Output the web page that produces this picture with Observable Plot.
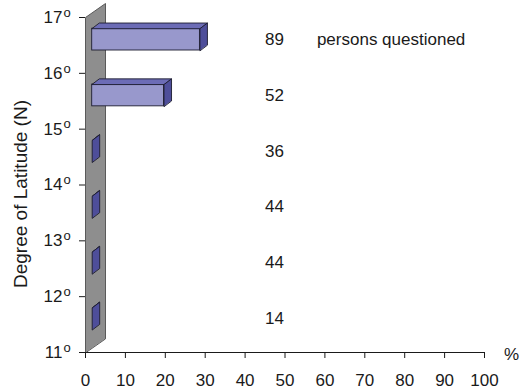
<!DOCTYPE html>
<html>
<head>
<meta charset="utf-8">
<script src="https://cdn.jsdelivr.net/npm/d3@7"></script>
<script src="https://cdn.jsdelivr.net/npm/@observablehq/plot@0.6"></script>
<style>
  html, body { margin: 0; padding: 0; background: #fff; }
  svg { display: block; }
</style>
</head>
<body>
<div id="chart"></div>
<script>
// ---- data ----
const latitudes = [16.5, 15.5, 14.5, 13.5, 12.5, 11.5];   // band centres (°N)
const percent   = [27, 18, 0, 0, 0, 0];                     // bar values (%)
const persons   = [89, 52, 36, 44, 44, 14];                 // persons questioned
const xTicks    = [0, 10, 20, 30, 40, 50, 60, 70, 80, 90, 100];
const yTicks    = [11, 12, 13, 14, 15, 16, 17];

// ---- layout ----
const W = 531, H = 391, ML = 85, MR = 47, MT = 17, MB = 39;
const kx = (W - ML - MR) / 100;   // px per %
const ky = (H - MT - MB) / 6;     // px per degree
const off = (px, py) => [px / kx, py / ky];   // pixel depth -> data units
const FRONT = off(6.7, 5.8), BACK = off(14.2, 11.5), WALL = off(20, 14);
const HALF = 0.195;               // half bar thickness (degrees)

const rows = latitudes.map((lat, i) => ({lat, v: percent[i], n: persons[i]}));

// polygons
const wallPts = [[0, 11], [0, 17], [WALL[0], 17 + WALL[1]], [WALL[0], 11 + WALL[1]]]
  .map(([x, y]) => ({x, y, id: "wall"}));

const shift = ([x, y], o) => [x + o[0], y + o[1]];
const topPts = [], sidePts = [], frontRects = [];
rows.forEach((r, i) => {
  const t = r.lat + HALF, b = r.lat - HALF;
  frontRects.push({x1: FRONT[0], x2: r.v + FRONT[0], y1: b + FRONT[1], y2: t + FRONT[1]});
  [[0, t, FRONT], [r.v, t, FRONT], [r.v, t, BACK], [0, t, BACK]]
    .forEach(([x, y, o]) => { const p = shift([x, y], o); topPts.push({x: p[0], y: p[1], id: i}); });
  [[r.v, b, FRONT], [r.v, t, FRONT], [r.v, t, BACK], [r.v, b, BACK]]
    .forEach(([x, y, o]) => { const p = shift([x, y], o); sidePts.push({x: p[0], y: p[1], id: i}); });
});

const FONT = "'Liberation Sans', Arial, Helvetica, sans-serif";
const STROKE = "#1c1c30";
const INK = "#1a1a1a";

const chart = Plot.plot({
  width: W, height: H,
  marginLeft: ML, marginRight: MR, marginTop: MT, marginBottom: MB,
  style: {fontFamily: FONT, fontSize: "17px", color: INK, background: "#fff"},
  x: {domain: [0, 100]},
  y: {domain: [11, 17]},
  marks: [
    // wall
    Plot.line(wallPts, {x: "x", y: "y", z: "id", curve: "linear-closed", fill: "#8e8e8e", stroke: "#5a5a5a", strokeWidth: 1}),
    // bars
    Plot.rect(frontRects, {x1: "x1", x2: "x2", y1: "y1", y2: "y2", fill: "#9898cc", stroke: STROKE, strokeWidth: 0.9}),
    Plot.line(topPts, {x: "x", y: "y", z: "id", curve: "linear-closed", fill: "#6c6cb6", stroke: STROKE, strokeWidth: 0.9}),
    Plot.line(sidePts, {x: "x", y: "y", z: "id", curve: "linear-closed", fill: "#4e4e9a", stroke: STROKE, strokeWidth: 0.9}),
    // axes
    Plot.ruleY([11], {stroke: INK, strokeWidth: 1}),
    Plot.axisX({ticks: xTicks, tickSize: 6, tickPadding: 15, label: null, fontSize: 17, stroke: INK, fill: INK}),
    Plot.axisY({ticks: yTicks, tickSize: 6, tickPadding: 17, tickFormat: d => String(d), label: null, fontSize: 17, stroke: INK, fill: INK}),
    // superscript "o" on latitude ticks
    Plot.text(yTicks, {x: 0, y: d => d, text: () => "o", dx: -18.5, dy: -5, fontSize: 13, fill: INK}),
    Plot.text(["Degree of Latitude (N)"], {frameAnchor: "left", textAnchor: "middle", dx: -65, dy: 9, rotate: -90, fontSize: 19, fill: INK}),
    Plot.text(["%"], {x: 100, y: 11, dx: 27, dy: 2, fontSize: 17, fill: INK}),
    // persons questioned
    Plot.text(rows, {x: () => 45, y: "lat", text: "n", dy: -6, textAnchor: "start", fontSize: 17, fill: INK}),
    Plot.text(["persons questioned"], {x: 58, y: latitudes[0], dy: -6, textAnchor: "start", fontSize: 17, fill: INK})
  ]
});
document.getElementById("chart").appendChild(chart);
</script>
</body>
</html>
